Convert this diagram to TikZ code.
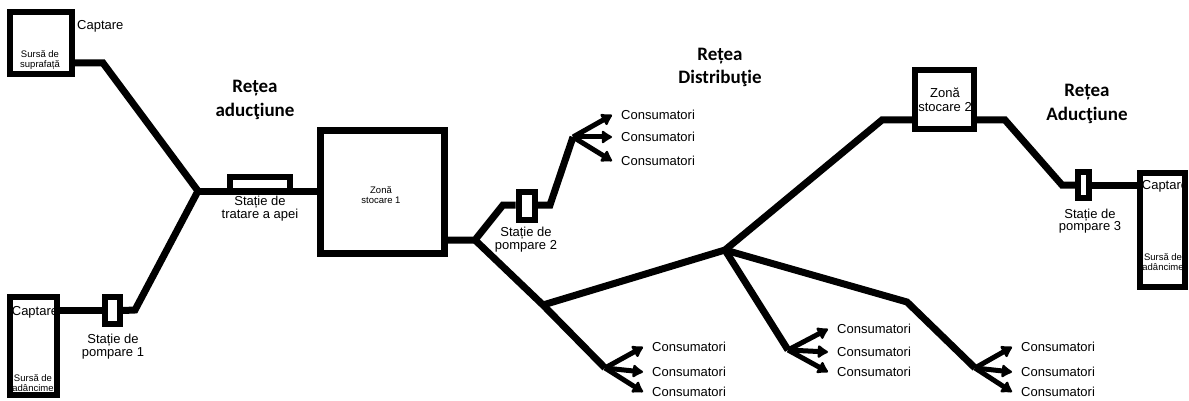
\documentclass[tikz,border=0pt]{standalone}
\usepackage{fontspec}
\setmainfont{Liberation Sans}
\newfontfamily\titlefont{Carlito}
\usetikzlibrary{arrows.meta}

\tikzset{
  box/.style={draw, line width=6pt, inner sep=0pt},
  pipe/.style={line width=7pt},
  feed/.style={line width=5pt, -{Latex[length=12pt,width=16pt,round]}},
  lbl/.style={font=\fontsize{13}{12.5}\selectfont, align=center, inner sep=0pt},
  small/.style={font=\fontsize{9.5}{10.5}\selectfont, align=center, inner sep=0pt},
  cons/.style={font=\fontsize{13}{12.5}\selectfont, anchor=west, inner xsep=9pt, inner ysep=0pt},
  title/.style={font=\titlefont\bfseries\fontsize{19}{23.5}\selectfont, align=center, inner sep=0pt}
}

\begin{document}
\begin{tikzpicture}[x=1pt,y=-1pt]
\useasboundingbox (0,0) rectangle (1189,401);

%%%%%%%%%% sources
\node[box, minimum width=62pt, minimum height=62pt] (src1) at (41,43) {};
\node[lbl, anchor=west] (capt1) at (77,26) {Captare};
\node[small] (sup1) at (40,60) {Sursă de\\suprafață};

\node[box, minimum width=47pt, minimum height=98pt] (src2) at (33.5,346) {};
\node[lbl] (capt2) at (35,312) {Captare};
\node[small] (adc2) at (33,383) {Sursă de\\adâncime};

\node[box, minimum width=15pt, minimum height=27pt] (pump1) at (112.5,310.5) {};
\node[lbl] (lp1) at (113,346.5) {Stație de\\pompare 1};

%%%%%%%%%% treatment + storage 1
\node[box, line width=5.5pt, minimum width=60pt, minimum height=14pt] (treat) at (260,184) {};
\node[lbl] (lt) at (260,208.5) {Stație de\\tratare a apei};

\node[box, line width=7pt, minimum width=124pt, minimum height=123pt] (zone1) at (382.5,192) {};
\node[small] (lz1) at (381,195) {Zonă\\stocare 1};

\node[box, minimum width=16pt, minimum height=28pt] (pump2) at (526.5,205.5) {};
\node[lbl] (lp2) at (526,239.5) {Stație de\\pompare 2};

%%%%%%%%%% storage 2 + source 3
\node[box, minimum width=59pt, minimum height=59pt] (zone2) at (944.5,99.5) {};
\node[lbl, font=\fontsize{13}{14}\selectfont] (lz2) at (945,100) {Zonă\\stocare 2};

\node[box, minimum width=11pt, minimum height=26pt] (pump3) at (1083.5,185) {};
\node[lbl] (lp3) at (1090,221) {Stație de\\pompare 3};

\node[box, minimum width=45pt, minimum height=114pt] (src3) at (1162.5,230) {};
\node[lbl] (capt3) at (1165,186) {Captare};
\node[small] (adc3) at (1163,262) {Sursă de\\adâncime};

%%%%%%%%%% titles
\node[title] (t1) at (255,100) {Rețea\\aducţiune};
\node[title] (t2) at (720,67.5) {Rețea\\Distribuţie};
\node[title] (t3) at (1087,104) {Rețea\\Aducţiune};

%%%%%%%%%% pipe points
\coordinate (b1) at (103,63);
\coordinate (b2) at (135,310);
\coordinate (j1) at (198,191);
\coordinate (j2) at (475,240);
\coordinate (b3) at (503,205);
\coordinate (b4) at (550,205);
\coordinate (j3) at (573,137);
\coordinate (j4) at (543,305);
\coordinate (j5) at (605,368);
\coordinate (j6) at (725,250);
\coordinate (b5) at (882,120);
\coordinate (j7) at (788,350);
\coordinate (b6) at (907,302);
\coordinate (j8) at (975,368);
\coordinate (b7) at (1005,120);
\coordinate (b8) at (1062,185);

%%%%%%%%%% pipes
\draw[pipe] (src1.east |- b1) -- (b1) -- (j1);
\draw[pipe] (src2.east |- pump1) -- (pump1.west);
\draw[pipe] (pump1.east) -- (b2) -- (j1);
\draw[pipe] (j1) -- (zone1.west |- j1);
\draw[pipe] (zone1.east |- j2) -- (j2) -- (b3) -- (pump2.west |- b3);
\draw[pipe] (pump2.east |- b4) -- (b4) -- (j3);
\draw[pipe] (j2) -- (j4) -- (j5);
\draw[pipe] (j4) -- (j6) -- (b5) -- (zone2.west |- b5);
\draw[pipe] (j6) -- (j7);
\draw[pipe] (j6) -- (b6) -- (j8);
\draw[pipe] (zone2.east |- b7) -- (b7) -- (b8) -- (pump3.west |- b8);
\draw[pipe] (pump3.east |- b8) -- (src3.west |- b8);

%%%%%%%%%% consumers
\foreach \n/\y in {1/115,2/137,3/161}{
  \node[cons] (ca\n) at (612,\y) {Consumatori};
  \draw[feed] (j3) -- (ca\n.west);
}
\foreach \n/\y in {1/347,2/372,3/392}{
  \node[cons] (cb\n) at (643,\y) {Consumatori};
  \draw[feed] (j5) -- (cb\n.west);
}
\foreach \n/\y in {1/329,2/352,3/372}{
  \node[cons] (cc\n) at (828,\y) {Consumatori};
  \draw[feed] (j7) -- (cc\n.west);
}
\foreach \n/\y in {1/347,2/372,3/392}{
  \node[cons] (cd\n) at (1012,\y) {Consumatori};
  \draw[feed] (j8) -- (cd\n.west);
}

\end{tikzpicture}
\end{document}
